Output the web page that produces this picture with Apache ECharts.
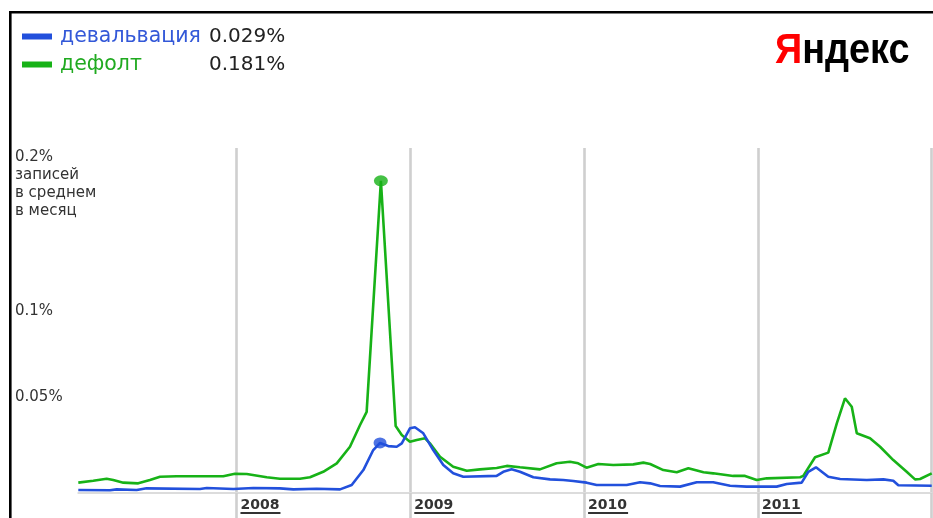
<!DOCTYPE html>
<html><head><meta charset="utf-8">
<script src="https://cdn.jsdelivr.net/npm/echarts@6.0.0/dist/echarts.min.js"></script>
<style>html,body{margin:0;padding:0;background:#fff}#c{width:933px;height:518px}</style>
</head><body><div id="c"></div>
<script>
// ---- data ----
const seriesNames = ['девальвация', 'дефолт'];
// time as decimal years, values in %
const devT = [2007.090, 2007.272, 2007.311, 2007.426, 2007.483, 2007.790, 2007.829, 2007.982, 2008.097, 2008.250, 2008.327, 2008.461, 2008.596, 2008.663, 2008.730, 2008.787, 2008.826, 2008.873, 2008.922, 2008.951, 2008.998, 2009.027, 2009.075, 2009.132, 2009.190, 2009.247, 2009.305, 2009.497, 2009.535, 2009.583, 2009.631, 2009.708, 2009.804, 2009.880, 2009.938, 2010.015, 2010.072, 2010.245, 2010.322, 2010.380, 2010.437, 2010.552, 2010.648, 2010.743, 2010.840, 2010.935, 2010.993, 2011.108, 2011.166, 2011.252, 2011.290, 2011.334, 2011.405, 2011.473, 2011.626, 2011.722, 2011.779, 2011.808, 2012.000];
const devV = [0.0017, 0.0016, 0.0021, 0.0017, 0.0027, 0.0023, 0.0029, 0.0023, 0.0029, 0.0027, 0.0021, 0.0025, 0.0021, 0.0046, 0.0133, 0.0249, 0.029, 0.0272, 0.0268, 0.0288, 0.0375, 0.0381, 0.0346, 0.0249, 0.0162, 0.0114, 0.0094, 0.0099, 0.0123, 0.0137, 0.0123, 0.0091, 0.0079, 0.0075, 0.0070, 0.0060, 0.0046, 0.0046, 0.0062, 0.0056, 0.0041, 0.0037, 0.0062, 0.0062, 0.0042, 0.0037, 0.0037, 0.0037, 0.0052, 0.0060, 0.0123, 0.0149, 0.0094, 0.0081, 0.0075, 0.0079, 0.0071, 0.0045, 0.0042];
const defT = [2007.090, 2007.176, 2007.253, 2007.291, 2007.349, 2007.435, 2007.502, 2007.560, 2007.656, 2007.924, 2007.991, 2008.059, 2008.174, 2008.250, 2008.365, 2008.423, 2008.499, 2008.577, 2008.653, 2008.711, 2008.749, 2008.831, 2008.916, 2008.951, 2008.998, 2009.037, 2009.085, 2009.113, 2009.171, 2009.247, 2009.325, 2009.401, 2009.497, 2009.555, 2009.631, 2009.746, 2009.842, 2009.919, 2009.966, 2010.014, 2010.082, 2010.168, 2010.283, 2010.341, 2010.380, 2010.456, 2010.533, 2010.600, 2010.687, 2010.743, 2010.858, 2010.926, 2010.993, 2011.051, 2011.243, 2011.261, 2011.329, 2011.405, 2011.454, 2011.501, 2011.540, 2011.569, 2011.645, 2011.703, 2011.779, 2011.856, 2011.904, 2011.933, 2012.000];
const defV = [0.0060, 0.0071, 0.0083, 0.0075, 0.0060, 0.0056, 0.0075, 0.0094, 0.0097, 0.0097, 0.0112, 0.0110, 0.0091, 0.0083, 0.0083, 0.0091, 0.0123, 0.0172, 0.0268, 0.0394, 0.047, 0.181, 0.0388, 0.0336, 0.0297, 0.0307, 0.0317, 0.0288, 0.0210, 0.0152, 0.0129, 0.0137, 0.0145, 0.0157, 0.0149, 0.0137, 0.0172, 0.0181, 0.0172, 0.0147, 0.0168, 0.0162, 0.0166, 0.0176, 0.0168, 0.0133, 0.0120, 0.0143, 0.0120, 0.0114, 0.0099, 0.0099, 0.0075, 0.0085, 0.0091, 0.0099, 0.0207, 0.0234, 0.0404, 0.0549, 0.0500, 0.0346, 0.0317, 0.0268, 0.0191, 0.0123, 0.0079, 0.0081, 0.0114];
const devMarkIndex = 16;
const defMarkIndex = 21;
const yearTicks = [2008, 2009, 2010, 2011, 2012];
const yearLabels = [2008, 2009, 2010, 2011];
const yLabelValues = [0.05, 0.1];
const yLabelTexts = ['0.05%', '0.1%'];
const yTopValue = 0.2;
const yTopText = '0.2%\nзаписей\nв среднем\nв месяц';
const logoFirst = 'Я', logoRest = 'ндекс';

// ---- styles ----
const BLUE = '#2250dc', GREEN = '#17b217';
const pairs = (t, v) => t.map((x, i) => [x, v[i]]);
const fmt = v => v.toFixed(3) + '%';
const legendVals = {};
legendVals[seriesNames[0]] = fmt(devV[devMarkIndex]);
legendVals[seriesNames[1]] = fmt(defV[defMarkIndex]);

const chart = echarts.init(document.getElementById('c'));
const yAxisBase = {
  type: 'value', min: 0, max: 0.2, interval: 0.05,
  axisLine: {show: false}, axisTick: {show: false}, splitLine: {show: false}
};
chart.setOption({
  animation: false,
  backgroundColor: '#fff',
  grid: {left: 78.3, right: 1.3, top: 148, bottom: 25},
  xAxis: {
    type: 'value', min: 2007.09, max: 2012,
    axisLine: {show: true, lineStyle: {color: '#dcdcdc', width: 2}},
    axisTick: {show: true, customValues: yearTicks, length: 25, lineStyle: {color: '#cfcfcf', width: 2.6}},
    splitLine: {show: true, lineStyle: {color: '#cfcfcf', width: 2.6}},
    axisLabel: {
      customValues: yearLabels, align: 'left', margin: 5, padding: [0, 0, 0, 4],
      formatter: v => '{y|' + v + '}\n{u| }',
      rich: {
        y: {fontFamily: 'DejaVu Sans', fontWeight: 'bold', fontSize: 14, color: '#333', lineHeight: 14},
        u: {width: 40, height: 2, lineHeight: 2, fontSize: 1, backgroundColor: '#333'}
      }
    }
  },
  yAxis: [
    Object.assign({}, yAxisBase, {
      axisLabel: {
        align: 'left', margin: 63.3, verticalAlign: 'bottom', padding: [0, 0, 2, 0],
        fontFamily: 'DejaVu Sans', fontSize: 15, color: '#333',
        formatter: v => { const i = yLabelValues.findIndex(x => Math.abs(x - v) < 1e-9); return i >= 0 ? yLabelTexts[i] : ''; }
      }
    }),
    Object.assign({}, yAxisBase, {
      position: 'left',
      axisLabel: {
        align: 'left', margin: 63.3, verticalAlign: 'top', lineHeight: 18,
        fontFamily: 'DejaVu Sans', fontSize: 15, color: '#333',
        formatter: v => Math.abs(v - yTopValue) < 1e-9 ? yTopText : ''
      }
    })
  ],
  legend: {
    orient: 'vertical', left: 22, top: 26, padding: 0, itemWidth: 30, itemHeight: 6, itemGap: 7,
    icon: 'rect', selectedMode: false,
    data: [{name: seriesNames[0], itemStyle: {color: BLUE}}, {name: seriesNames[1], itemStyle: {color: GREEN}}],
    formatter: name => '{' + (name === seriesNames[0] ? 'b' : 'g') + '|' + name + '}{v|' + legendVals[name] + '}',
    textStyle: {
      rich: {
        b: {fontFamily: 'DejaVu Sans', fontSize: 20.5, lineHeight: 20, color: '#3358d8', width: 149, padding: [0, 0, 0, 3]},
        g: {fontFamily: 'DejaVu Sans', fontSize: 20.5, lineHeight: 20, color: '#20aa20', width: 149, padding: [0, 0, 0, 3]},
        v: {fontFamily: 'DejaVu Sans', fontSize: 20, lineHeight: 20, color: '#222'}
      }
    }
  },
  graphic: [
    {type: 'rect', z: 100, silent: true, shape: {x: 10.3, y: 12.3, width: 1000, height: 1000},
     style: {fill: 'none', stroke: '#000', lineWidth: 2.6}},
    {type: 'text', left: 775, top: 30, scaleX: 0.88, z: 100,
     style: {text: '{r|' + logoFirst + '}{k|' + logoRest + '}',
       rich: {r: {fontFamily: 'Liberation Sans', fontWeight: 'bold', fontSize: 43, fill: '#ff0000', color: '#ff0000'},
              k: {fontFamily: 'Liberation Sans', fontWeight: 'bold', fontSize: 43, fill: '#000', color: '#000'}}}}
  ],
  series: [
    {name: seriesNames[0], type: 'line', data: pairs(devT, devV), showSymbol: false, symbol: 'none',
     lineStyle: {color: BLUE, width: 2.6}, itemStyle: {color: BLUE}, z: 3},
    {name: seriesNames[1], type: 'line', data: pairs(defT, defV), showSymbol: false, symbol: 'none',
     lineStyle: {color: GREEN, width: 2.6}, itemStyle: {color: GREEN}, z: 2},
    {name: seriesNames[0] + '_pt', type: 'scatter', data: [[devT[devMarkIndex], devV[devMarkIndex]]],
     symbolSize: [13, 11], itemStyle: {color: BLUE}, z: 4},
    {name: seriesNames[1] + '_pt', type: 'scatter', data: [[defT[defMarkIndex], defV[defMarkIndex]]],
     symbolSize: [14, 11], itemStyle: {color: GREEN}, z: 4}
  ]
});
</script></body></html>
